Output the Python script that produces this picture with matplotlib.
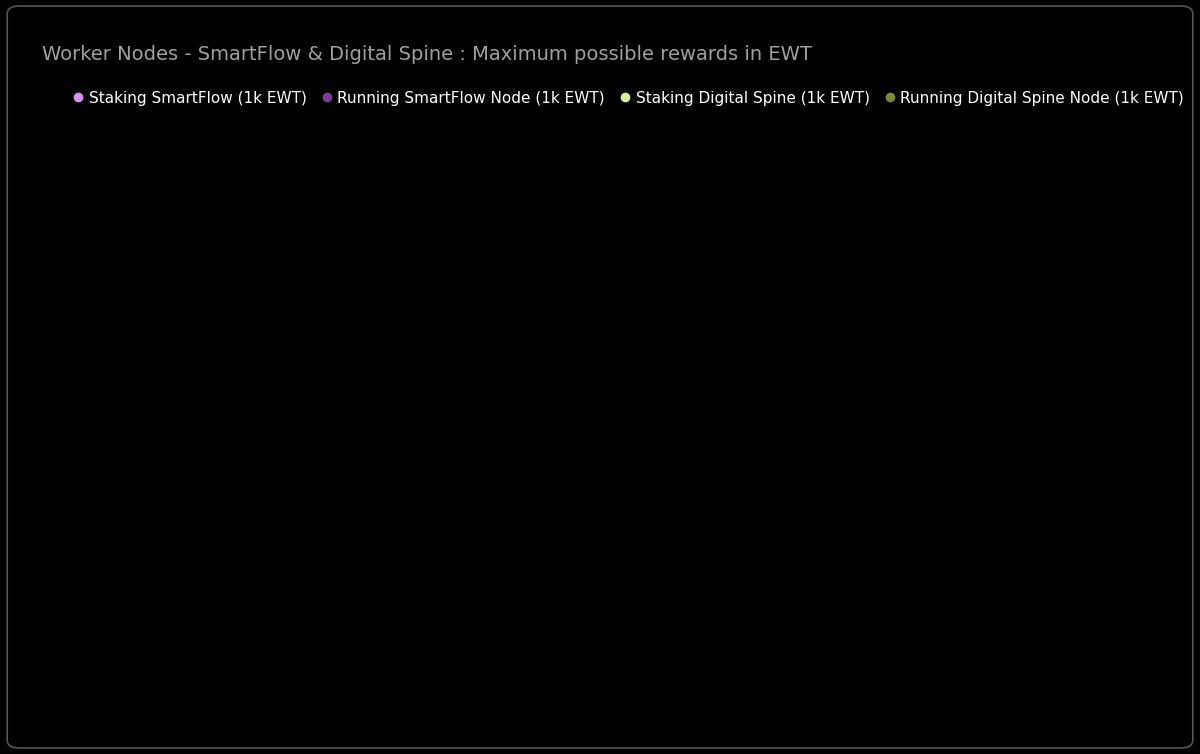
import numpy as np
import matplotlib.pyplot as plt
from matplotlib.patches import FancyBboxPatch

periods = list(range(105, 154))
sf_periods = list(range(105, 152))

run_sf = [0.848, 1.466, 1.28, 1.24, 1.237, 1.214, 1.10, 1.087, 1.039, 1.007,
          0.998, 0.972, 0.963, 0.953, 0.959, 0.912, 0.902, 0.905, 0.905, 0.876,
          0.870, 0.857, 0.867, 0.873, 0.873, 0.864, 0.870, 0.851, 0.851, 0.851,
          0.848, 0.848, 0.857, 0.838, 0.88, 1.358, 1.345, 1.323, 1.323, 1.294,
          1.29, 1.265, 1.278, 1.24, 1.259, 1.217, 1.217]
stake_sf = [0.306, 0.529, 0.456, 0.443, 0.433, 0.427, 0.386, 0.382, 0.363, 0.347,
            0.344, 0.338, 0.335, 0.331, 0.331, 0.319, 0.316, 0.312, 0.314, 0.306,
            0.306, 0.30, 0.30, 0.30, 0.298, 0.296, 0.296, 0.296, 0.296, 0.293,
            0.293, 0.293, 0.293, 0.287, 0.306, 0.452, 0.446, 0.437, 0.433, 0.433,
            0.43, 0.424, 0.424, 0.418, 0.418, 0.408, 0.398]
ds_periods = list(range(141, 152))
run_ds = [1.377, 1.227, 1.195, 1.147, 1.125, 1.112, 1.122, 1.141, 1.138, 1.122, 1.112]
stake_ds = [0.121, 0.108, 0.105, 0.102, 0.099, 0.099, 0.099, 0.102, 0.099, 0.099, 0.099]

series = [
    ("Staking SmartFlow (1k EWT)", sf_periods, stake_sf, "#d98ef0"),
    ("Running SmartFlow Node (1k EWT)", sf_periods, run_sf, "#7d3c98"),
    ("Staking Digital Spine (1k EWT)", ds_periods, stake_ds, "#d6f0a0"),
    ("Running Digital Spine Node (1k EWT)", ds_periods, run_ds, "#7b8a35"),
]


def smooth(x, y, n=20):
    # Catmull-Rom curve through the points, like the spreadsheet "smoothed line"
    x = np.asarray(x, float)
    y = np.asarray(y, float)
    px = np.concatenate([[x[0]], x, [x[-1]]])
    py = np.concatenate([[y[0]], y, [y[-1]]])
    xs, ys = [], []
    t = np.linspace(0, 1, n, endpoint=False)
    for i in range(1, len(px) - 2):
        for P, out in ((px, xs), (py, ys)):
            p0, p1, p2, p3 = P[i - 1], P[i], P[i + 1], P[i + 2]
            out.extend(0.5 * (2 * p1 + (-p0 + p2) * t + (2 * p0 - 5 * p1 + 4 * p2 - p3) * t ** 2
                              + (-p0 + 3 * p1 - 3 * p2 + p3) * t ** 3))
    xs.append(x[-1])
    ys.append(y[-1])
    return xs, ys


fig = plt.figure(figsize=(12, 7.54), dpi=100, facecolor='black')
fig.patches.append(FancyBboxPatch((0.006, 0.008), 0.988, 0.984, boxstyle="round,pad=0,rounding_size=0.01",
                                  transform=fig.transFigure, fc='black', ec='#555555', lw=1.2))
ax = fig.add_axes([118 / 1200, 1 - 639 / 754, (1157 - 118) / 1200, (639 - 137) / 754])
ax.set_facecolor('black')

idx = {p: i for i, p in enumerate(periods)}
for label, xp, yv, c in series:
    xi = [idx[p] for p in xp]
    sx, sy = smooth(xi, yv)
    ax.plot(sx, sy, color=c, lw=1.3)
    ax.plot(xi, yv, 'o', color=c, ms=2.2)
    ax.plot([], [], 'o', color=c, ms=6, label=label)

ax.set_xlim(-0.5, len(periods) - 0.5)
ax.set_ylim(0, 1.6)
yt = np.linspace(0, 1.6, 10)
ax.set_yticks(yt)
ax.set_yticklabels(['%.2f' % v for v in yt], color='white', fontsize=10)
ax.set_xticks(range(len(periods)))
ax.set_xticklabels([str(p) for p in periods], rotation=70, ha='right', rotation_mode='anchor',
                   color='white', fontsize=10)
ax.tick_params(length=0, pad=6)
ax.grid(axis='y', color='#3a3a3a', lw=1)
for s in ['top', 'right', 'left']:
    ax.spines[s].set_visible(False)
ax.spines['bottom'].set_color('#777777')
ax.set_axisbelow(True)

ax.set_xlabel('Reward Period', color='white', fontsize=11, labelpad=22)
ax.set_ylabel('EWT Rewards for 1k subscribed', color='white', fontsize=11, labelpad=14)
fig.text(42 / 1200, 1 - 55 / 754, 'Worker Nodes - SmartFlow & Digital Spine : Maximum possible rewards in EWT',
         color='#a0a0a0', fontsize=14, va='center')
leg = fig.legend(loc='center left', bbox_to_anchor=(60 / 1200, 1 - 98 / 754), ncol=4, frameon=False,
                 fontsize=11, labelcolor='white', handlelength=0.6, columnspacing=1.0, handletextpad=0.4)

fig.savefig('out.png', dpi=100, facecolor='black')
